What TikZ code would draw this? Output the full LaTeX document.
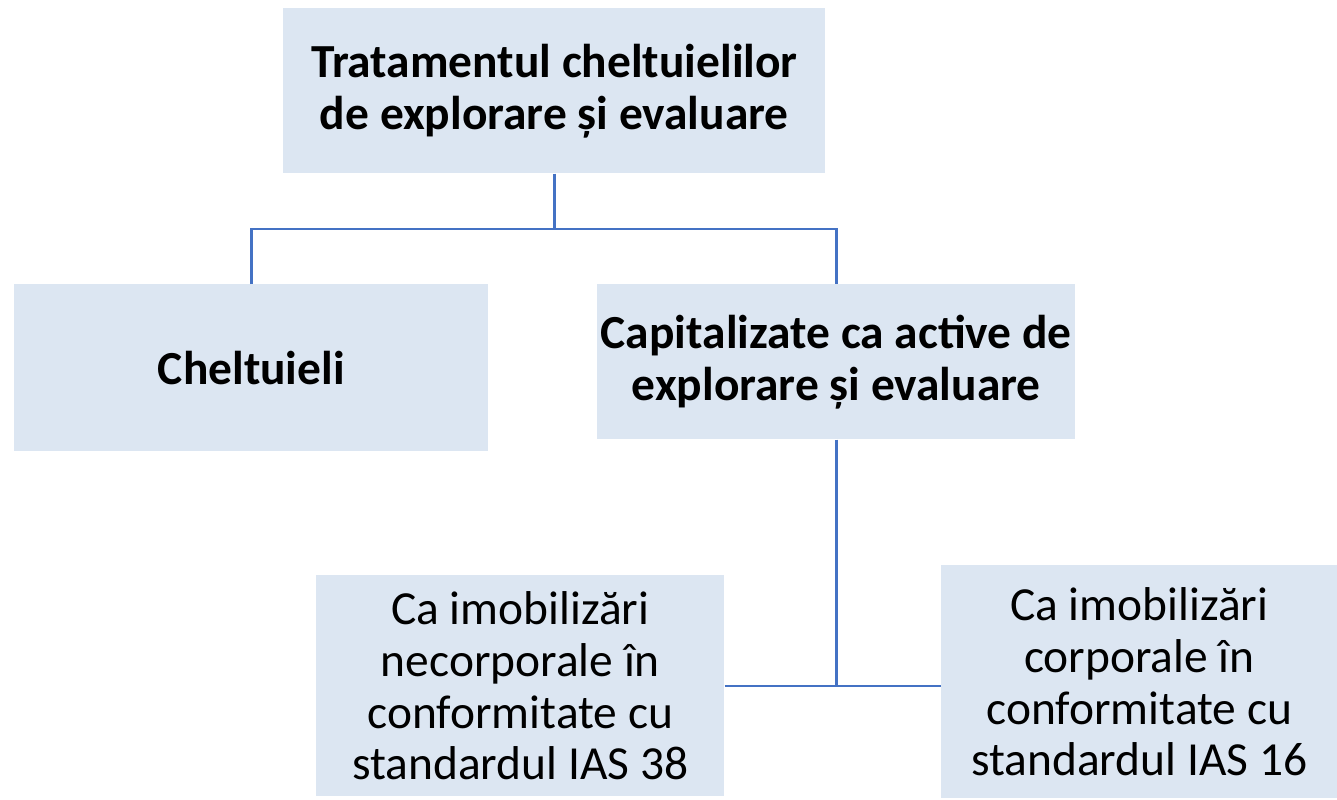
\documentclass[tikz,border=0pt]{standalone}
\usepackage{fontspec}
\setmainfont{Carlito}
\usepackage{tikz}
\usetikzlibrary{calc}
\definecolor{cutie}{RGB}{220,230,242}
\definecolor{linie}{RGB}{68,114,196}
\tikzstyle{caseta} = [rectangle, fill=cutie, draw=none, anchor=north west, align=center, inner sep=2pt, font=\fontsize{27}{29.5}\selectfont]
\tikzstyle{legatura} = [draw=linie, line width=1.4pt]

\begin{document}
\begin{tikzpicture}
        \useasboundingbox (0,0) rectangle (26.74,-15.98);

        \node (trat) [caseta, minimum width=10.84cm, minimum height=3.3cm] at (5.66,-0.16) {\textbf{Tratamentul cheltuielilor}\\\textbf{de explorare și evaluare}};

        \node (chelt) [caseta, minimum width=9.48cm, minimum height=3.34cm] at (0.28,-5.68) {\textbf{Cheltuieli}};
        \node (capit) [caseta, minimum width=9.48cm, minimum height=3.1cm] at (11.94,-5.68) {\textbf{Capitalizate ca active de}\\\textbf{explorare și evaluare}};

        \node (necorp) [caseta, minimum width=8.16cm, minimum height=4.42cm] at (6.32,-11.5) {Ca imobilizări\\necorporale în\\conformitate cu\\standardul IAS 38};
        \node (corp) [caseta, minimum width=7.92cm, minimum height=4.66cm] at (18.82,-11.3) {Ca imobilizări\\corporale în\\conformitate cu\\standardul IAS 16};

        \coordinate (bara) at (0,-4.58);

        \draw[legatura] (trat.south) -- (trat.south |- bara);
        \draw[legatura] (chelt.north) |- (capit.north |- bara) -- (capit.north);
        \draw[legatura] (capit.south) -- (capit.south |- necorp.east);
        \draw[legatura] (necorp.east) -- (necorp.east -| corp.west);

    \end{tikzpicture}
\end{document}
